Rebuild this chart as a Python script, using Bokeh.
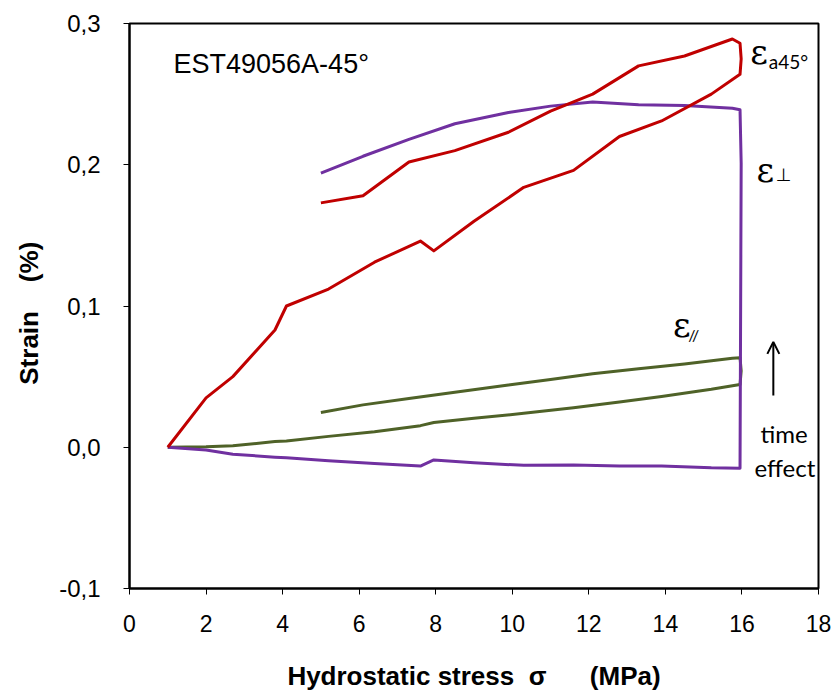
from bokeh.plotting import figure
from bokeh.models import (Range1d, FixedTicker, CustomJSTickFormatter, Arrow, OpenHead,
                          Label)
from bokeh.embed import file_html
from bokeh.resources import INLINE

# ---------------- data ----------------
# loading path (stress increasing)
load_x = [1.0, 2.0, 2.7, 3.8, 4.1, 5.2, 6.4, 7.6, 7.95, 9.0, 10.3, 11.6, 12.8, 13.9, 15.2, 15.95]
axial_load = [0.0, 0.035, 0.05, 0.083, 0.100, 0.112, 0.131, 0.146, 0.139, 0.160, 0.184, 0.196,
              0.220, 0.231, 0.250, 0.264]
perp_load = [0.0, -0.002, -0.005, -0.007, -0.0075, -0.0095, -0.0115, -0.0133, -0.009, -0.011,
             -0.0128, -0.0125, -0.0133, -0.0132, -0.0145, -0.0148]
par_load = [0.0, 0.0003, 0.001, 0.004, 0.0045, 0.0077, 0.011, 0.0153, 0.0175, 0.0205, 0.024,
            0.028, 0.032, 0.036, 0.041, 0.0444]

# time effect at constant stress (creep)
creep_x = [15.95, 15.98, 15.95]
axial_creep = [0.264, 0.275, 0.286]
perp_creep = [-0.0148, 0.201, 0.239]
par_creep = [0.0444, 0.054, 0.0634]

# unloading path (stress decreasing)
unload_x = [15.95, 15.75, 14.5, 13.3, 12.1, 11.0, 9.9, 8.5, 7.3, 6.1, 5.0]
axial_unload = [0.286, 0.289, 0.277, 0.270, 0.250, 0.238, 0.223, 0.210, 0.202, 0.178, 0.173]
perp_unload = [0.239, 0.240, 0.242, 0.2425, 0.2445, 0.2415, 0.237, 0.229, 0.218, 0.206, 0.194]
par_unload = [0.0634, 0.063, 0.059, 0.0555, 0.052, 0.048, 0.044, 0.039, 0.0345, 0.030, 0.0246]

x_ticks = [0, 2, 4, 6, 8, 10, 12, 14, 16, 18]
y_ticks = [-0.1, 0.0, 0.1, 0.2, 0.3]

RED = "#C00000"
PURPLE = "#7030A0"
GREEN = "#4F6228"

p = figure(width=834, height=693, output_backend="svg", toolbar_location=None,
           x_range=Range1d(0, 18), y_range=Range1d(-0.1, 0.3),
           min_border_left=129, min_border_right=16, min_border_top=23, min_border_bottom=102)

p.xgrid.visible = False
p.ygrid.visible = False
p.outline_line_color = "black"
p.outline_line_width = 2
p.background_fill_color = "white"

def path(xs_parts, ys_parts):
    xs, ys = [], []
    for a, b in zip(xs_parts, ys_parts):
        xs += list(a)
        ys += list(b)
    return xs, ys

for col, (l, c, u) in [(GREEN, (par_load, par_creep, par_unload)),
                       (PURPLE, (perp_load, perp_creep, perp_unload)),
                       (RED, (axial_load, axial_creep, axial_unload))]:
    xs, ys = path([load_x, creep_x, unload_x], [l, c, u])
    p.line(xs, ys, line_color=col, line_width=3, line_join="round")

# axes
for ax in (p.xaxis[0], p.yaxis[0]):
    ax.axis_line_color = "black"
    ax.axis_line_width = 2
    ax.major_tick_line_color = "black"
    ax.major_tick_line_width = 1
    ax.major_tick_in = 0
    ax.major_tick_out = 6
    ax.minor_tick_line_color = None
    ax.major_label_text_font = "Liberation Sans"
    ax.major_label_text_color = "black"
    ax.axis_label_text_font = "Liberation Sans"
    ax.axis_label_text_font_style = "bold"
    ax.axis_label_text_color = "black"
    ax.axis_label_text_font_size = "26px"

p.xaxis.ticker = FixedTicker(ticks=x_ticks)
p.yaxis.ticker = FixedTicker(ticks=y_ticks)
p.yaxis.formatter = CustomJSTickFormatter(code="return tick.toFixed(1).replace('.', ',');")
p.xaxis.major_label_text_font_size = "23px"
p.yaxis.major_label_text_font_size = "24px"
p.xaxis.major_label_standoff = 20
p.yaxis.major_label_standoff = 23
p.xaxis.axis_label = "Hydrostatic stress \u00a0\u03c3\u00a0\u00a0\u00a0\u00a0\u00a0 (MPa)"
p.yaxis.axis_label = "Strain\u00a0\u00a0\u00a0\u00a0(%)\u00a0\u00a0"
p.xaxis.axis_label_standoff = 26
p.yaxis.axis_label_standoff = 12

# annotations
p.add_layout(Label(x=1.15, y=0.2715, text="EST49056A-45\u00b0", text_font="Liberation Sans",
                   text_font_size="27px", text_color="black", text_baseline="alphabetic"))

def lab(x, y, t, font, size):
    p.add_layout(Label(x=x, y=y, text=t, text_font=font, text_font_size=size,
                       text_color="black", text_baseline="alphabetic", text_align="left"))

lab(16.22, 0.2800, "\u03b5", "DejaVu Serif", "34px")
lab(16.70, 0.2730, "a45\u00b0", "Lato", "19px")
lab(16.38, 0.1960, "\u03b5", "DejaVu Serif", "34px")
lab(16.88, 0.1930, "\u22a5", "DejaVu Sans", "18px")
lab(14.2, 0.0865, "\u03b5", "DejaVu Serif", "34px")
lab(14.6, 0.0795, "//", "Lato", "16px")

p.add_layout(Arrow(end=OpenHead(size=12, line_width=2, line_color="black"),
                   x_start=16.82, y_start=0.0366, x_end=16.82, y_end=0.0746,
                   line_width=2, line_color="black"))
p.add_layout(Label(x=17.1, y=0.0095, text="time", text_font="Lato", text_font_size="24px",
                   text_align="center", text_baseline="alphabetic", text_color="black"))
p.add_layout(Label(x=17.12, y=-0.0145, text="effect", text_font="Lato", text_font_size="24px",
                   text_align="center", text_baseline="alphabetic", text_color="black"))

open("out.html", "w").write(file_html(p, INLINE))
